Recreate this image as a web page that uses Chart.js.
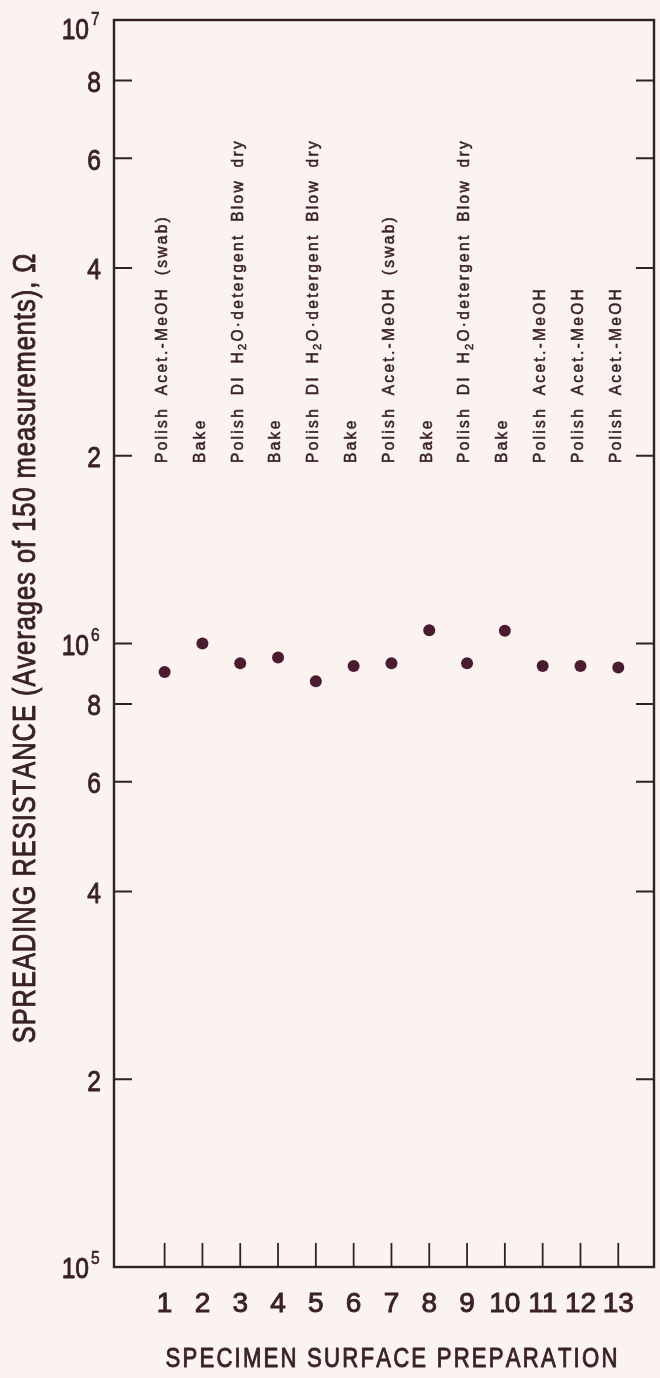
<!DOCTYPE html>
<html>
<head>
<meta charset="utf-8">
<style>
  html, body { margin: 0; padding: 0; background: #fbf3f0; }
  #wrap { width: 660px; height: 1378px; }
</style>
<script src="https://cdn.jsdelivr.net/npm/chart.js@4.4.1/dist/chart.umd.min.js"></script>
</head>
<body>
<div id="wrap"><canvas id="c" width="660" height="1378"></canvas></div>
<script>
// ---------------- data ----------------
const specimens = [1, 2, 3, 4, 5, 6, 7, 8, 9, 10, 11, 12, 13];
const resistance = [9.0e5, 1.0e6, 9.3e5, 9.5e5, 8.7e5, 9.2e5, 9.3e5, 1.05e6, 9.3e5, 1.048e6, 9.2e5, 9.2e5, 9.15e5];
const preparations = [
  'Polish Acet.-MeOH (swab)',
  'Bake',
  'Polish DI H₂O·detergent Blow dry',
  'Bake',
  'Polish DI H₂O·detergent Blow dry',
  'Bake',
  'Polish Acet.-MeOH (swab)',
  'Bake',
  'Polish DI H₂O·detergent Blow dry',
  'Bake',
  'Polish Acet.-MeOH',
  'Polish Acet.-MeOH',
  'Polish Acet.-MeOH'
];
const xTickLabels = ['1', '2', '3', '4', '5', '6', '7', '8', '9', '10', '11', '12', '13'];
const yTickValues = [1e5, 2e5, 4e5, 6e5, 8e5, 1e6, 2e6, 4e6, 6e6, 8e6, 1e7];
const yTickLabels = ['10^5', '2', '4', '6', '8', '10^6', '2', '4', '6', '8', '10^7'];
const yTitle = 'SPREADING RESISTANCE (Averages of 150 measurements), Ω';
const xTitle = 'SPECIMEN SURFACE PREPARATION';

// ---------------- style ----------------
const BG = '#fbf3f0';
const INK = '#3a2129';
const FRAME = '#331f28';
const DOT = '#4b1c30';

function hasFont(name) {
  const c = document.createElement('canvas').getContext('2d');
  const s = 'abcdefghijklmWMil1234567890';
  c.font = '40px monospace';
  const a = c.measureText(s).width;
  c.font = '40px "' + name + '", monospace';
  const b = c.measureText(s).width;
  return Math.abs(a - b) > 0.5;
}
const NARROW = hasFont('Liberation Sans Narrow');
const NF = NARROW ? '"Liberation Sans Narrow", "Liberation Sans", sans-serif' : '"Liberation Sans", Arial, sans-serif';
const NSX = NARROW ? 1 : 0.82;
const RF = '"Liberation Sans", Arial, sans-serif';

// text run with letter spacing, horizontal scale, subscript ₂, optional stroke for a medium weight
function fontStr(o, sub) {
  return (o.weight || 'normal') + ' ' + (sub ? o.size * 0.72 : o.size) + 'px ' + o.family;
}
function runWidth(ctx, text, o) {
  let w = 0;
  for (const ch of text) {
    const sub = ch === '₂';
    ctx.font = fontStr(o, sub);
    w += ctx.measureText(sub ? '2' : ch).width * o.sx + o.spacing + (ch === ' ' ? (o.wordExtra || 0) : 0);
  }
  return w - o.spacing;
}
function drawRun(ctx, text, x, y, o) {
  let cx = x;
  ctx.lineWidth = o.stroke || 0;
  ctx.strokeStyle = ctx.fillStyle;
  ctx.lineJoin = 'round';
  for (const ch of text) {
    const sub = ch === '₂';
    ctx.font = fontStr(o, sub);
    const g = sub ? '2' : ch;
    const dy = sub ? o.size * 0.28 : 0;
    ctx.save();
    ctx.translate(cx, y + dy);
    ctx.scale(o.sx, 1);
    ctx.fillText(g, 0, 0);
    if (o.stroke) ctx.strokeText(g, 0, 0);
    ctx.restore();
    cx += ctx.measureText(g).width * o.sx + o.spacing + (ch === ' ' ? (o.wordExtra || 0) : 0);
  }
}

const decor = {
  id: 'decor',
  beforeDraw(chart) {
    const ctx = chart.ctx;
    ctx.save();
    ctx.fillStyle = BG;
    ctx.fillRect(0, 0, chart.width, chart.height);
    ctx.restore();
  },
  beforeDatasetsDraw(chart) {
    const ctx = chart.ctx;
    const { left, right, top, bottom } = chart.chartArea;
    const xs = chart.scales.x, ys = chart.scales.y;
    ctx.save();
    ctx.strokeStyle = FRAME;
    ctx.fillStyle = INK;
    ctx.lineCap = 'butt';

    // frame
    ctx.lineWidth = 2.4;
    ctx.strokeRect(left, top, right - left, bottom - top);

    // inward y ticks on both sides
    ctx.lineWidth = 2;
    yTickValues.forEach(v => {
      if (v === ys.min || v === ys.max) return;
      const y = ys.getPixelForValue(v);
      ctx.beginPath();
      ctx.moveTo(left, y); ctx.lineTo(left + 18, y);
      ctx.moveTo(right, y); ctx.lineTo(right - 18, y);
      ctx.stroke();
    });

    // inward x ticks
    ctx.lineWidth = 1.8;
    specimens.forEach(v => {
      const x = xs.getPixelForValue(v);
      ctx.beginPath();
      ctx.moveTo(x, bottom); ctx.lineTo(x, bottom - 24);
      ctx.stroke();
    });

    // y tick labels
    ctx.textBaseline = 'middle';
    const big = { size: 30, family: NF, sx: NSX, spacing: 0, stroke: 0.9 };
    const small = { size: 19, family: NF, sx: NSX, spacing: 0, stroke: 0.6 };
    yTickValues.forEach((v, i) => {
      const lab = yTickLabels[i];
      const py = ys.getPixelForValue(v);
      const y = Math.max(py + 3, top + 11);
      if (lab.includes('^')) {
        const [base, sup] = lab.split('^');
        drawRun(ctx, base, 89 - runWidth(ctx, base, big), y, big);
        drawRun(ctx, sup, 91, y - 11, small);
      } else {
        drawRun(ctx, lab, 101 - runWidth(ctx, lab, big), y, big);
      }
    });

    // rotated surface-preparation labels
    ctx.textAlign = 'left';
    ctx.textBaseline = 'middle';
    const lo = { size: 16, family: RF, sx: 0.97, spacing: 2.3, wordExtra: 5, stroke: 0.55 };
    preparations.forEach((t, i) => {
      const x = xs.getPixelForValue(specimens[i]) - 2;
      ctx.save();
      ctx.translate(x, 463);
      ctx.rotate(-Math.PI / 2);
      drawRun(ctx, t, 0, 0, lo);
      ctx.restore();
    });

    // y axis title
    const yo = { size: 31, family: NF, sx: NSX, spacing: 1.0, stroke: 0.9 };
    const yw = runWidth(ctx, yTitle, yo);
    ctx.save();
    ctx.translate(26, (top + bottom) / 2 + 5);
    ctx.rotate(-Math.PI / 2);
    drawRun(ctx, yTitle, -yw / 2, 0, yo);
    ctx.restore();

    // x axis title
    const xo = { size: 27, family: NF, sx: NSX, spacing: 2.2, stroke: 0.9 };
    const xw = runWidth(ctx, xTitle, xo);
    const cx = xs.getPixelForValue(specimens[6]);
    drawRun(ctx, xTitle, cx - xw / 2, 1360, xo);

    ctx.restore();
  }
};

new Chart(document.getElementById('c'), {
  type: 'scatter',
  data: {
    datasets: [{
      data: specimens.map((s, i) => ({ x: s, y: resistance[i] })),
      pointRadius: 6,
      pointHoverRadius: 6,
      pointBackgroundColor: DOT,
      pointBorderWidth: 0,
      showLine: false
    }]
  },
  options: {
    responsive: false,
    animation: false,
    devicePixelRatio: 1,
    layout: { padding: { top: 20, right: 2, left: 0, bottom: 0 } },
    plugins: { legend: { display: false }, tooltip: { enabled: false } },
    scales: {
      x: {
        type: 'linear',
        min: -0.339,
        max: 13.945,
        grid: { display: false, drawTicks: false },
        border: { display: false },
        afterBuildTicks: s => { s.ticks = specimens.map(v => ({ value: v })); },
        afterFit: s => { s.height = 111; },
        ticks: {
          autoSkip: false,
          maxRotation: 0,
          minRotation: 0,
          padding: 20,
          color: INK,
          textStrokeColor: INK,
          textStrokeWidth: 0.9,
          font: { family: NF, size: NARROW ? 30 : 28 },
          callback: v => xTickLabels[specimens.indexOf(v)]
        }
      },
      y: {
        type: 'logarithmic',
        min: 1e5,
        max: 1e7,
        grid: { display: false, drawTicks: false },
        border: { display: false },
        afterBuildTicks: s => { s.ticks = yTickValues.map(v => ({ value: v })); },
        afterFit: s => { s.width = 114; },
        ticks: { display: false }
      }
    }
  },
  plugins: [decor]
});
</script>
</body>
</html>
